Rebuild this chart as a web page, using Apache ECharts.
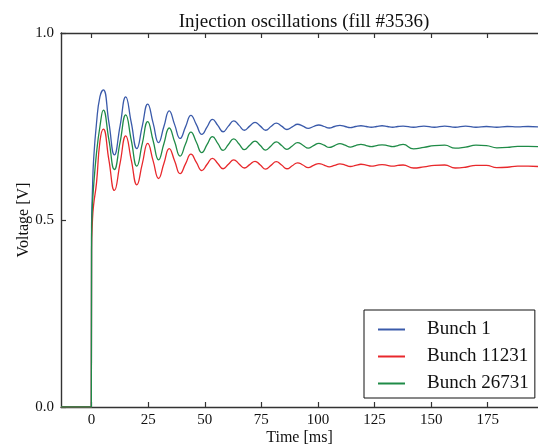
<!DOCTYPE html>
<html><head><meta charset="utf-8">
<script src="https://cdn.jsdelivr.net/npm/echarts@6/dist/echarts.min.js"></script>
<style>html,body{margin:0;padding:0;background:#fff}#c{width:538px;height:445px}</style>
</head><body><div id="c"></div>
<script>
const chartTitle = 'Injection oscillations (fill #3536)';
const seriesNames = ['Bunch 1', 'Bunch 11231', 'Bunch 26731'];
const xTicks = [0, 25, 50, 75, 100, 125, 150, 175];
const yTicks = [0, 0.5, 1.0];

const timeMs = [-13.5, -0.1, 0.0, 0.4, 0.9, 2.2, 3.7,
  5.2, 7.65, 10.1, 12.6,
  15.1, 17.55, 20.0, 22.4,
  24.8, 27.2, 29.6, 31.95,
  34.3, 36.7, 39.1, 41.5,
  43.9, 46.3, 48.7, 51.05,
  53.4, 55.75, 58.1, 60.45,
  62.8, 65.15, 67.5, 69.85,
  72.2, 74.55, 76.9, 79.25,
  81.6, 83.95, 86.3, 88.65,
  91.0, 93.35, 95.7, 98.05,
  100.4, 102.7, 105.0, 107.35,
  109.7, 112.0, 114.3, 116.65,
  119.0, 121.3, 123.6, 125.95,
  128.3, 130.65, 133.0, 135.3,
  137.6,
  142.2, 146.8, 151.4, 156.0, 160.6, 165.2, 169.8, 174.4, 179.0, 183.6, 188.2, 192.8, 197.2];

const bunch1 = [0, 0, 0.48, 0.58, 0.66, 0.76, 0.83,
  0.848, 0.761, 0.674, 0.752,
  0.829, 0.760, 0.691, 0.751,
  0.810, 0.759, 0.707, 0.750,
  0.792, 0.755, 0.718, 0.749,
  0.780, 0.755, 0.729, 0.749,
  0.769, 0.753, 0.736, 0.751,
  0.765, 0.753, 0.740, 0.751,
  0.761, 0.751, 0.740, 0.750,
  0.759, 0.751, 0.742, 0.749,
  0.756, 0.751, 0.745, 0.750,
  0.754, 0.750, 0.746, 0.750,
  0.753, 0.750, 0.747, 0.750,
  0.752, 0.750, 0.748, 0.750,
  0.752, 0.750, 0.748, 0.750,
  0.751,
  0.748, 0.751, 0.748, 0.751, 0.748, 0.751, 0.748, 0.750, 0.748, 0.750, 0.749, 0.750, 0.749];

const bunch11231 = [0, 0, 0.42, 0.50, 0.54, 0.60, 0.71,
  0.743, 0.661, 0.579, 0.652,
  0.725, 0.660, 0.594, 0.650,
  0.705, 0.658, 0.611, 0.651,
  0.691, 0.658, 0.624, 0.650,
  0.676, 0.654, 0.632, 0.649,
  0.665, 0.651, 0.637, 0.649,
  0.661, 0.650, 0.639, 0.648,
  0.657, 0.647, 0.636, 0.646,
  0.656, 0.647, 0.637, 0.645,
  0.653, 0.647, 0.640, 0.646,
  0.651, 0.647, 0.642, 0.646,
  0.650, 0.647, 0.643, 0.646,
  0.649, 0.647, 0.644, 0.646,
  0.648, 0.646, 0.644, 0.646,
  0.647,
  0.639, 0.642, 0.646, 0.647, 0.639, 0.641, 0.646, 0.646, 0.640, 0.641, 0.644, 0.644, 0.643];

const bunch26731 = [0, 0, 0.45, 0.54, 0.59, 0.68, 0.75,
  0.794, 0.715, 0.635, 0.708,
  0.781, 0.713, 0.644, 0.704,
  0.763, 0.712, 0.661, 0.704,
  0.746, 0.709, 0.671, 0.703,
  0.735, 0.708, 0.680, 0.702,
  0.723, 0.705, 0.686, 0.702,
  0.717, 0.703, 0.688, 0.700,
  0.711, 0.699, 0.687, 0.698,
  0.709, 0.699, 0.689, 0.698,
  0.707, 0.700, 0.692, 0.699,
  0.705, 0.700, 0.694, 0.699,
  0.704, 0.700, 0.695, 0.699,
  0.702, 0.699, 0.696, 0.699,
  0.701, 0.699, 0.696, 0.699,
  0.702,
  0.690, 0.694, 0.699, 0.700, 0.692, 0.695, 0.700, 0.699, 0.693, 0.694, 0.697, 0.697, 0.696];

const colors = ['#3a5aaa', '#e8282c', '#1f8b47'];
const FONT = 'Liberation Serif, DejaVu Serif, serif';
const values = [bunch1, bunch11231, bunch26731];

const chart = echarts.init(document.getElementById('c'), null, {renderer: 'canvas'});
const axisLineStyle = {color: '#333', width: 1.4};
const tickStyle = {show: true, inside: true, length: 5, lineStyle: {color: '#333', width: 1.2}};

chart.setOption({
  animation: false,
  backgroundColor: '#fff',
  title: {
    text: chartTitle, left: 299, top: 8, textAlign: 'center',
    textStyle: {fontFamily: FONT, fontSize: 19, fontWeight: 'normal', color: '#111'}
  },
  grid: {left: 61, right: 0, top: 33, bottom: 38, outerBoundsMode: 'none', containLabel: false},
  legend: {
    orient: 'vertical', left: 364, top: 310,
    data: seriesNames,
    icon: 'rect',
    itemWidth: 27, itemHeight: 2, itemGap: 8,
    padding: [10, 6, 5, 14],
    borderColor: '#111', borderWidth: 1, borderRadius: 0,
    backgroundColor: '#fff',
    textStyle: {fontFamily: FONT, fontSize: 19, color: '#111', lineHeight: 18, padding: [0, 0, 0, 17]}
  },
  xAxis: [{
    type: 'value', min: -13.5, max: 197.2, position: 'bottom',
    name: 'Time [ms]', nameLocation: 'middle', nameGap: 23, nameMoveOverlap: false,
    nameTextStyle: {fontFamily: FONT, fontSize: 16, color: '#111'},
    axisLine: {show: true, onZero: false, lineStyle: axisLineStyle},
    axisTick: Object.assign({customValues: xTicks}, tickStyle),
    axisLabel: {customValues: xTicks, fontFamily: FONT, fontSize: 15, color: '#111', margin: 6},
    splitLine: {show: false}
  }, {
    type: 'value', min: -13.5, max: 197.2, position: 'top',
    axisLine: {show: true, onZero: false, lineStyle: axisLineStyle},
    axisTick: Object.assign({customValues: xTicks}, tickStyle),
    axisLabel: {show: false},
    splitLine: {show: false}
  }],
  yAxis: [{
    type: 'value', min: 0, max: 1, interval: 0.5,
    name: 'Voltage [V]', nameLocation: 'middle', nameGap: 29, nameMoveOverlap: false,
    nameTextStyle: {fontFamily: FONT, fontSize: 16, color: '#111'},
    axisLine: {show: true, onZero: false, lineStyle: axisLineStyle},
    axisTick: tickStyle,
    axisLabel: {fontFamily: FONT, fontSize: 15, color: '#111', margin: 7,
      formatter: v => v.toFixed(1)},
    splitLine: {show: false}
  }],
  series: seriesNames.map((name, k) => ({
    name: name, type: 'line', xAxisIndex: 0, yAxisIndex: 0,
    data: timeMs.map((t, i) => [t, values[k][i]]),
    symbol: 'none', smooth: 0.5,
    lineStyle: {color: colors[k], width: 1.3},
    itemStyle: {color: colors[k]},
    z: 2 + k
  }))
});
</script>
</body></html>
